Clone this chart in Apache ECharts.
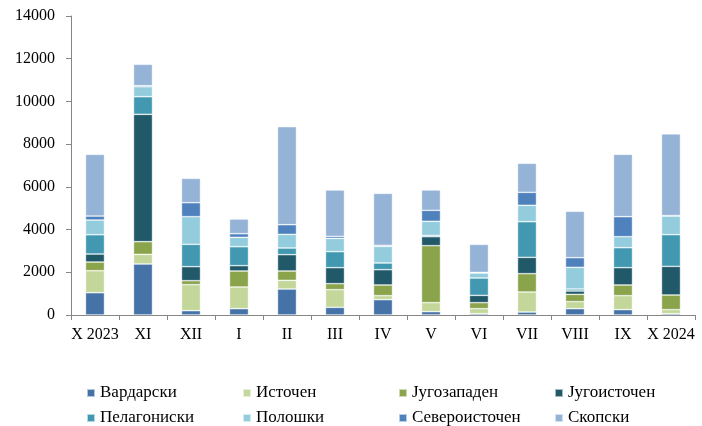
<!DOCTYPE html>
<html>
<head>
<meta charset="utf-8">
<script src="https://cdn.jsdelivr.net/npm/echarts@6/dist/echarts.min.js"></script>
<style>
  html, body { margin: 0; padding: 0; background: #fff; }
  #chart { width: 702px; height: 426px; }
</style>
</head>
<body>
<div id="chart"></div>
<script>
  // месеци
  var categories = ['X 2023', 'XI', 'XII', 'I', 'II', 'III', 'IV', 'V', 'VI', 'VII', 'VIII', 'IX', 'X 2024'];

  // региони (проценка од сликата)
  var vardarski      = [1044, 2388, 203, 297, 1217, 359, 718, 156, 62, 140, 297, 250, 62];
  var istochen       = [1030, 452, 1217, 1014, 406, 827, 187, 421, 235, 937, 327, 655, 188];
  var jugozapaden    = [406, 593, 187, 749, 437, 281, 500, 2669, 280, 858, 343, 500, 686];
  var jugoistochen   = [375, 5964, 656, 250, 765, 749, 717, 421, 343, 765, 157, 811, 1343];
  var pelagoniski    = [904, 825, 1045, 888, 312, 749, 313, 60, 812, 1669, 93, 936, 1482];
  var poloshki       = [688, 468, 1296, 438, 639, 624, 780, 660, 234, 767, 1015, 515, 874];
  var severoistochen = [187, 47, 655, 171, 453, 94, 47, 514, 30, 608, 452, 937, 20];
  var skopski        = [2888, 1001, 1139, 688, 4588, 2170, 2434, 953, 1311, 1358, 2171, 2919, 3824];

  var seriesDefs = [
    ['Вардарски', vardarski, '#4573a7'],
    ['Источен', istochen, '#c4d79b'],
    ['Југозападен', jugozapaden, '#8aa44c'],
    ['Југоисточен', jugoistochen, '#215968'],
    ['Пелагониски', pelagoniski, '#4198b0'],
    ['Полошки', poloshki, '#93cddd'],
    ['Североисточен', severoistochen, '#4f81bd'],
    ['Скопски', skopski, '#95b3d7']
  ];
  var names = seriesDefs.map(function (d) { return d[0]; });

  var font = 'Liberation Serif';

  // легенда во два реда по 4
  function legendRow(top, items) {
    return {
      left: 86,
      top: top,
      padding: 0,
      itemWidth: 8,
      itemHeight: 8,
      itemGap: 12,
      icon: 'rect',
      textStyle: {fontFamily: font, fontSize: 17, color: '#000', width: 130, lineHeight: 20},
      data: items
    };
  }

  var myChart = echarts.init(document.getElementById('chart'));
  myChart.setOption({
    animation: false,
    textStyle: {fontFamily: font},
    grid: {left: 71, right: 7, top: 16, bottom: 111},
    legend: [legendRow(383, names.slice(0, 4)), legendRow(408, names.slice(4))],
    xAxis: {
      type: 'category',
      data: categories,
      axisLine: {lineStyle: {color: '#868686'}},
      axisTick: {show: true, lineStyle: {color: '#868686'}, length: 5},
      axisLabel: {color: '#000', fontSize: 16, margin: 12, interval: 0, fontFamily: font}
    },
    yAxis: {
      type: 'value',
      min: 0,
      max: 14000,
      interval: 2000,
      splitLine: {show: false},
      axisLine: {show: true, lineStyle: {color: '#868686'}},
      axisTick: {show: true, lineStyle: {color: '#868686'}, length: 5},
      axisLabel: {
        color: '#000', fontSize: 16, margin: 16, fontFamily: font,
        formatter: function (v) { return String(v); }
      }
    },
    series: seriesDefs.map(function (d) {
      return {
        name: d[0],
        type: 'bar',
        stack: 'total',
        barWidth: 19,
        data: d[1],
        itemStyle: {color: d[2], borderColor: 'rgba(255,255,255,0.6)', borderWidth: 0.7}
      };
    })
  });
</script>
</body>
</html>
